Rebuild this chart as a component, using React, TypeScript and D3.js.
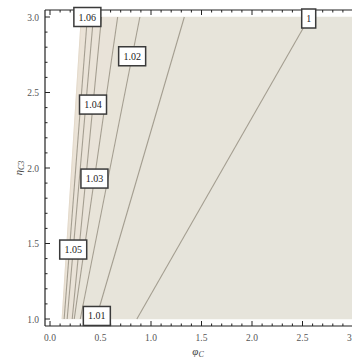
import React from "react";
import * as d3 from "d3";

// Contour levels and where each straight contour meets the bottom (η=1) and top (η=3) of the domain
const levels = [1, 1.01, 1.02, 1.03, 1.04, 1.05, 1.06];
const levelLabels = ["1", "1.01", "1.02", "1.03", "1.04", "1.05", "1.06"];
const phiAtEtaMin = [0.86, 0.455, 0.3, 0.24, 0.22, 0.17, 0.14];
const phiAtEtaMax = [2.57, 1.33, 0.89, 0.67, 0.51, 0.43, 0.37];
// η at which each contour carries its label
const labelEta = [2.99, 1.02, 2.74, 1.93, 2.42, 1.46, 3.0];
// Edge of the defined region (left of it the function has no value)
const edgePhi = [0.12, 0.31];

const xTicks = [0, 0.5, 1, 1.5, 2, 2.5, 3];
const yTicks = [1, 1.5, 2, 2.5, 3];

const W = 352;
const H = 358;

export default function App() {
  const x = d3.scaleLinear().domain([0, 3]).range([50, 353]);
  const y = d3.scaleLinear().domain([1, 3]).range([319, 17]);
  const frame = { left: 45, right: 358, top: 10, bottom: 326 };

  const lineAt = (a: number, b: number, eta: number) => a + (b - a) * (eta - 1) / 2;

  // Band boundaries from right (low values) to left (high values)
  const bounds: [number, number][] = [[3, 3]];
  levels.forEach((_, i) => bounds.push([phiAtEtaMin[i], phiAtEtaMax[i]]));
  bounds.push([edgePhi[0], edgePhi[1]]);

  const shade = d3.interpolateRgb("#e6e4db", "#ebe3d7");
  const bands = d3.range(bounds.length - 1).map((i) => {
    const r = bounds[i];
    const l = bounds[i + 1];
    const pts: [number, number][] = [
      [x(l[0]), y(1)],
      [x(r[0]), y(1)],
      [x(r[1]), y(3)],
      [x(l[1]), y(3)],
    ];
    return { d: "M" + pts.map((p) => p.join(",")).join("L") + "Z", fill: shade(i / (bounds.length - 2)) };
  });

  const minorX = d3.range(0, 3.001, 0.1);
  const minorY = d3.range(1, 3.001, 0.1);
  const isMajor = (v: number) => Math.abs(v * 2 - Math.round(v * 2)) < 1e-6;

  const tickFont = "'Liberation Serif', 'DejaVu Serif', serif";

  return (
    <svg width={W} height={H} style={{ position: "absolute", left: 0, top: 0, background: "#fff" }}>
      {bands.map((b, i) => (
        <path key={i} d={b.d} fill={b.fill} stroke={b.fill} strokeWidth={0.5} />
      ))}
      {levels.map((lv, i) => (
        <line
          key={lv}
          x1={x(phiAtEtaMin[i])}
          y1={y(1)}
          x2={x(phiAtEtaMax[i])}
          y2={y(3)}
          stroke="#a49e90"
          strokeWidth={1.1}
        />
      ))}
      <line x1={x(edgePhi[0])} y1={y(1)} x2={x(edgePhi[1])} y2={y(3)} stroke="#e4dacb" strokeWidth={1} />

      {/* frame */}
      <line x1={frame.left} y1={frame.top} x2={frame.right} y2={frame.top} stroke="#222" strokeWidth={1.2} />
      <line x1={frame.left} y1={frame.bottom} x2={frame.right} y2={frame.bottom} stroke="#222" strokeWidth={1.2} />
      <line x1={frame.left} y1={frame.top} x2={frame.left} y2={frame.bottom} stroke="#222" strokeWidth={1.2} />

      {minorX.map((v, i) => {
        const len = isMajor(v) ? 5 : 2.5;
        return (
          <g key={"xt" + i}>
            <line x1={x(v)} x2={x(v)} y1={frame.bottom} y2={frame.bottom - len} stroke="#222" />
            <line x1={x(v)} x2={x(v)} y1={frame.top} y2={frame.top + len} stroke="#222" />
          </g>
        );
      })}
      {minorY.map((v, i) => {
        const len = isMajor(v) ? 5 : 2.5;
        return <line key={"yt" + i} x1={frame.left} x2={frame.left + len} y1={y(v)} y2={y(v)} stroke="#222" />;
      })}

      {xTicks.map((v) => (
        <text key={"xl" + v} x={x(v)} y={341} textAnchor="middle" fontFamily={tickFont} fontSize={9.5} fill="#555">
          {v.toFixed(1)}
        </text>
      ))}
      {yTicks.map((v) => (
        <text key={"yl" + v} x={39} y={y(v) + 3.5} textAnchor="end" fontFamily={tickFont} fontSize={9.5} fill="#555">
          {v.toFixed(1)}
        </text>
      ))}

      <text x={198} y={355} textAnchor="middle" fontFamily={tickFont} fontSize={11} fontStyle="italic" fill="#444">
        φ<tspan fontSize={8} dy={2}>C</tspan>
      </text>
      <text
        transform={`translate(22, ${y(2)}) rotate(-90)`}
        textAnchor="middle"
        fontFamily={tickFont}
        fontSize={10.5}
        fontStyle="italic"
        fill="#444"
      >
        η<tspan fontSize={8} dy={2}>C3</tspan>
      </text>

      {levels.map((lv, i) => {
        const cx = x(lineAt(phiAtEtaMin[i], phiAtEtaMax[i], labelEta[i]));
        const cy = y(labelEta[i]);
        const w = levelLabels[i].length > 1 ? 27 : 14;
        const h = 19;
        return (
          <g key={"lab" + lv}>
            <rect x={cx - w / 2} y={cy - h / 2} width={w} height={h} fill="#fff" stroke="#3a3a3a" strokeWidth={1.5} />
            <text x={cx} y={cy + 3.5} textAnchor="middle" fontFamily={tickFont} fontSize={10} fill="#222">
              {levelLabels[i]}
            </text>
          </g>
        );
      })}
    </svg>
  );
}
